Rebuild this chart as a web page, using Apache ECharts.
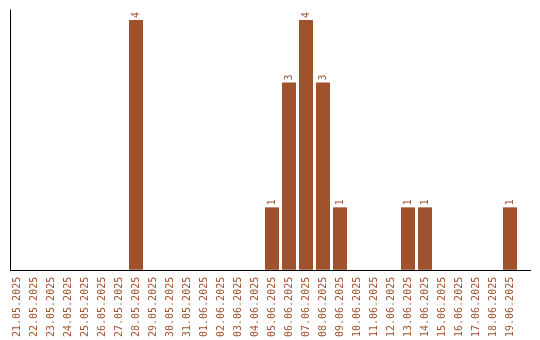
<!DOCTYPE html>
<html>
<head>
<meta charset="utf-8">
<script src="https://cdn.jsdelivr.net/npm/echarts@6/dist/echarts.min.js"></script>
<style>
  html, body { margin: 0; padding: 0; background: #fff; }
  #chart { width: 540px; height: 340px; }
</style>
</head>
<body>
<div id="chart"></div>
<script>
const dates = [
  '21.05.2025', '22.05.2025', '23.05.2025', '24.05.2025', '25.05.2025',
  '26.05.2025', '27.05.2025', '28.05.2025', '29.05.2025', '30.05.2025',
  '31.05.2025', '01.06.2025', '02.06.2025', '03.06.2025', '04.06.2025',
  '05.06.2025', '06.06.2025', '07.06.2025', '08.06.2025', '09.06.2025',
  '10.06.2025', '11.06.2025', '12.06.2025', '13.06.2025', '14.06.2025',
  '15.06.2025', '16.06.2025', '17.06.2025', '18.06.2025', '19.06.2025'
];
const counts = [
  0, 0, 0, 0, 0, 0, 0, 4, 0, 0,
  0, 0, 0, 0, 0, 1, 3, 4, 3, 1,
  0, 0, 0, 1, 1, 0, 0, 0, 0, 1
];

const brown = '#a0522d';
const mono = '"DejaVu Sans Mono", "Liberation Mono", monospace';

let chart = echarts.init(document.getElementById('chart'), null, { renderer: 'canvas' });
let option = {
  animation: false,
  backgroundColor: '#fff',
  grid: [
    // bars
    { left: 8.5, width: 510, top: 20, bottom: 70 },
    // frame (axis lines only)
    { left: 10.5, right: 9.5, top: 10, bottom: 70 }
  ],
  xAxis: [
    {
      gridIndex: 0,
      type: 'category',
      data: dates,
      axisLine: { show: false },
      axisTick: { show: false },
      axisLabel: {
        rotate: 90,
        margin: 7,
        interval: 0,
        color: brown,
        fontFamily: mono,
        fontSize: 10
      }
    },
    {
      gridIndex: 1,
      type: 'value',
      min: 0,
      max: 1,
      axisLine: { show: true, onZero: false, lineStyle: { color: '#000', width: 1 } },
      axisTick: { show: false },
      axisLabel: { show: false },
      splitLine: { show: false }
    }
  ],
  yAxis: [
    {
      gridIndex: 0,
      type: 'value',
      min: 0,
      max: 4,
      axisLine: { show: false },
      axisTick: { show: false },
      axisLabel: { show: false },
      splitLine: { show: false }
    },
    {
      gridIndex: 1,
      type: 'value',
      min: 0,
      max: 1,
      axisLine: { show: true, onZero: false, lineStyle: { color: '#000', width: 1 } },
      axisTick: { show: false },
      axisLabel: { show: false },
      splitLine: { show: false }
    }
  ],
  series: [
    {
      type: 'bar',
      xAxisIndex: 0,
      yAxisIndex: 0,
      data: counts,
      barWidth: 14,
      itemStyle: { color: brown },
      label: {
        show: true,
        position: 'top',
        rotate: 90,
        align: 'left',
        verticalAlign: 'middle',
        distance: 2,
        color: brown,
        fontFamily: mono,
        fontSize: 10,
        formatter: p => (p.value ? String(p.value) : '')
      }
    }
  ]
};
chart.setOption(option);
window.addEventListener('resize', () => chart.resize());
</script>
</body>
</html>
